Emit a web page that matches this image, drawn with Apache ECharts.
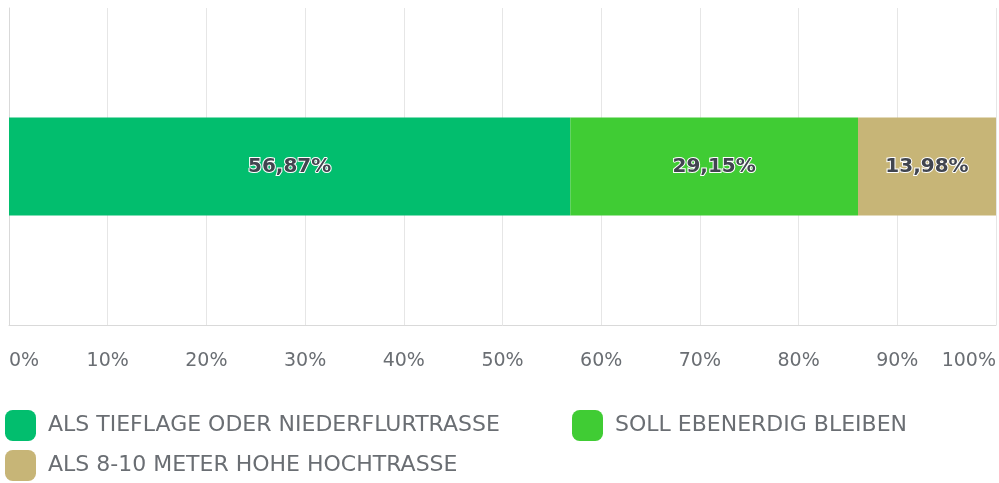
<!DOCTYPE html>
<html>
<head>
<meta charset="utf-8">
<script src="https://cdn.jsdelivr.net/npm/echarts@6/dist/echarts.min.js"></script>
<style>
  html, body { margin: 0; padding: 0; background: #fff; }
  #chart { width: 999px; height: 483px; }
</style>
</head>
<body>
<div id="chart"></div>
<script>
var categories = [''];
var seriesNames = ['ALS TIEFLAGE ODER NIEDERFLURTRASSE', 'SOLL EBENERDIG BLEIBEN', 'ALS 8-10 METER HOHE HOCHTRASSE'];
var tiefValues = [56.87];
var ebenValues = [29.15];
var hochValues = [13.98];
var colors = ['#02be6e', '#40cc34', '#c7b577'];

var myChart = echarts.init(document.getElementById('chart'));

var fontName = 'DejaVu Sans';

function makeSeries(name, values) {
    return {
        name: name,
        type: 'bar',
        stack: 'total',
        barWidth: 98,
        data: values,
        label: {
            show: true,
            position: 'inside',
            fontFamily: fontName,
            fontSize: 20,
            fontWeight: 'bold',
            color: '#41454f',
            textBorderColor: '#fff',
            textBorderWidth: 2,
            formatter: function (p) {
                return p.value.toFixed(2).replace('.', ',') + '%';
            }
        }
    };
}

// one legend per item so each sits where it does in the picture
function makeLegend(name, left, top) {
    return {
        data: [name],
        left: left, top: top,
        padding: 0,
        itemWidth: 31, itemHeight: 31,
        itemGap: 10,
        icon: 'roundRect',
        textStyle: { fontFamily: fontName, fontSize: 22, color: '#6a6e73', padding: [7, 0, 0, 7] }
    };
}

var option = {
    color: colors,
    animation: false,
    grid: { left: 9, right: 2, top: 8, bottom: 158 },
    legend: [
        makeLegend(seriesNames[0], 5, 410),
        makeLegend(seriesNames[1], 572, 410),
        makeLegend(seriesNames[2], 5, 450)
    ],
    xAxis: {
        type: 'value',
        min: 0, max: 100, interval: 10,
        axisLine: { show: true, lineStyle: { color: '#d9d9d9' } },
        axisTick: { show: false },
        splitLine: { lineStyle: { color: '#e6e6e6' } },
        axisLabel: {
            formatter: '{value}%',
            margin: 27,
            fontFamily: fontName,
            fontSize: 19,
            color: '#6a6e73',
            alignMinLabel: 'left',
            alignMaxLabel: 'right'
        }
    },
    yAxis: {
        type: 'category',
        data: categories,
        axisLine: { show: true, lineStyle: { color: '#d9d9d9' } },
        axisTick: { show: false },
        axisLabel: { show: false }
    },
    series: [
        makeSeries(seriesNames[0], tiefValues),
        makeSeries(seriesNames[1], ebenValues),
        makeSeries(seriesNames[2], hochValues)
    ]
};

myChart.setOption(option);
</script>
</body>
</html>
